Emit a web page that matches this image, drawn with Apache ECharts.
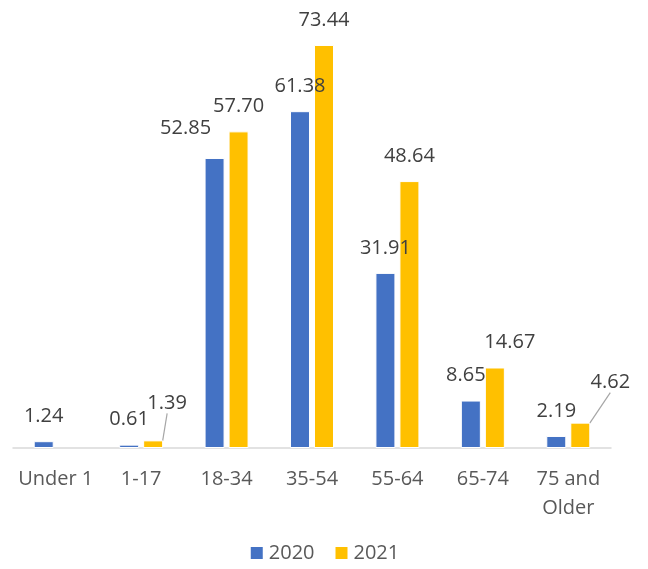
<!DOCTYPE html>
<html>
<head>
    <meta charset="utf-8">
    <script src="https://cdn.jsdelivr.net/npm/echarts@6/dist/echarts.min.js"></script>
</head>
<body style="margin:0">
    <div id="main" style="width:648px;height:569px;"></div>
</body>
<script type="text/javascript">
    // age groups and the two years
    var categories = ['Under 1', '1-17', '18-34', '35-54', '55-64', '65-74', '75 and\nOlder'];
    var values2020 = [1.24, 0.61, 52.85, 61.38, 31.91, 8.65, 2.19];
    var values2021 = [null, 1.39, 57.70, 73.44, 48.64, 14.67, 4.62];

    // label nudges, like in the original
    var shift2020 = {2: [-29, -5], 5: [-5, 0]};
    var shift2021 = {1: [14, -12], 5: [15, 0], 6: [30, -15]};

    var myChart = echarts.init(document.getElementById('main'));

    var labelStyle = {
        show: true,
        position: 'top',
        distance: 15,
        fontFamily: 'Open Sans',
        fontSize: 20,
        color: '#404040',
        formatter: function (p) { return p.value.toFixed(2); }
    };

    function withLines(arr, lines) {
        return arr.map(function (v, i) {
            if (v === null) return '-';
            if (lines.indexOf(i) >= 0) {
                return {value: v, labelLine: {show: true, lineStyle: {color: '#a6a6a6', width: 1.2}}};
            }
            return v;
        });
    }

    myChart.setOption({
        animation: false,
        textStyle: {fontFamily: 'Open Sans'},
        grid: {left: 13, right: 37, top: 9, bottom: 121},
        legend: {
            bottom: 1,
            itemWidth: 14,
            itemHeight: 14,
            itemGap: 19,
            icon: 'rect',
            textStyle: {fontSize: 20, color: '#595959', fontFamily: 'Open Sans'},
            data: ['2020', '2021']
        },
        xAxis: {
            type: 'category',
            data: categories,
            axisLine: {lineStyle: {color: '#d9d9d9', width: 1.5}},
            axisTick: {show: false},
            axisLabel: {
                margin: 17,
                fontSize: 20,
                lineHeight: 29,
                color: '#595959',
                fontFamily: 'Open Sans',
                interval: 0
            }
        },
        yAxis: {
            type: 'value',
            min: 0,
            max: 80,
            show: false
        },
        series: [{
            name: '2020',
            type: 'bar',
            barWidth: 20,
            barGap: '20%',
            itemStyle: {color: '#4472C4', borderColor: '#fff', borderWidth: 1},
            label: labelStyle,
            labelLayout: function (p) {
                var s = shift2020[p.dataIndex];
                return s ? {dx: s[0], dy: s[1]} : {};
            },
            data: withLines(values2020, [])
        }, {
            name: '2021',
            type: 'bar',
            barWidth: 20,
            itemStyle: {color: '#FFC000', borderColor: '#fff', borderWidth: 1},
            label: labelStyle,
            labelLayout: function (p) {
                var s = shift2021[p.dataIndex];
                return s ? {dx: s[0], dy: s[1]} : {};
            },
            data: withLines(values2021, [1, 6])
        }]
    });
</script>
</html>
